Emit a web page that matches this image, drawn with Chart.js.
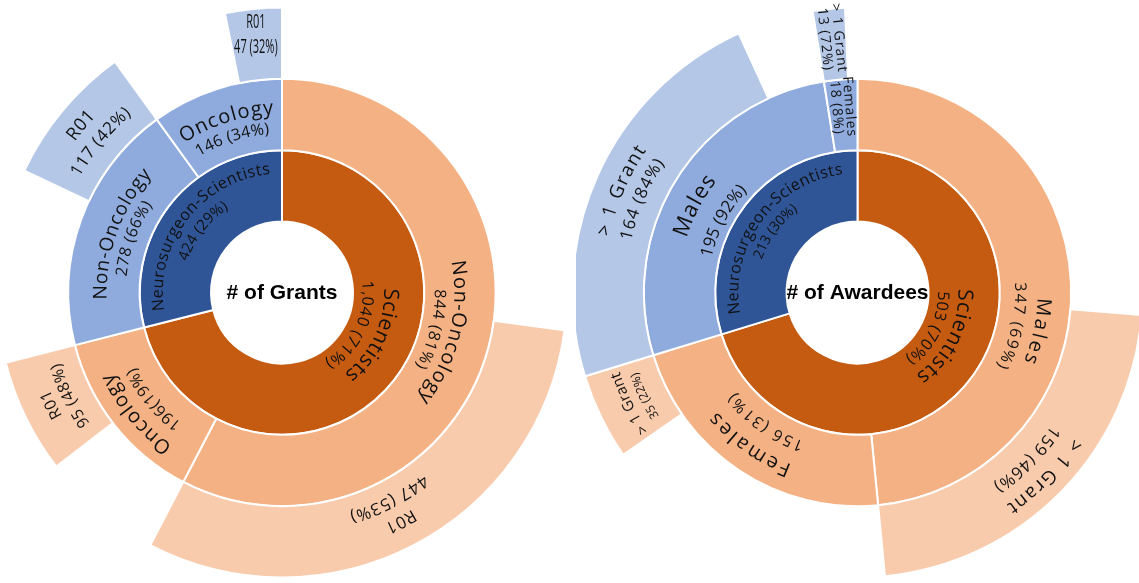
<!DOCTYPE html>
<html>
<head>
<meta charset="utf-8">
<script src="https://cdn.jsdelivr.net/npm/chart.js@4.4.1/dist/chart.umd.min.js"></script>
<style>
  html, body { margin: 0; padding: 0; background: #ffffff; }
  #wrap { position: relative; width: 1139px; height: 583px; overflow: hidden; }
  canvas { position: absolute; top: 0; }
</style>
</head>
<body>
<div id="wrap">
  <canvas id="grants" width="564" height="583" style="left:0px"></canvas>
  <canvas id="awardees" width="563" height="583" style="left:576px"></canvas>
</div>
<script>
// ---------------- DATA ----------------
// Chart 1: # of Grants
const grantTitle = "# of Grants";
const grantGroups = ["Scientists", "Neurosurgeon-Scientists"];
const grantGroupValues = [1040, 424];
const grantAreas = ["Non-Oncology", "Oncology", "Non-Oncology", "Oncology"];
const grantAreaValues = [844, 196, 278, 146];
const grantAreaParent = [0, 0, 1, 1];
const grantR01Names = ["R01", "R01", "R01", "R01"];
const grantR01Values = [447, 95, 117, 47];

// Chart 2: # of Awardees
const awardTitle = "# of Awardees";
const awardGroups = ["Scientists", "Neurosurgeon-Scientists"];
const awardGroupValues = [503, 213];
const awardSexes = ["Males", "Females", "Males", "Females"];
const awardSexValues = [347, 156, 195, 18];
const awardSexParent = [0, 0, 1, 1];
const awardMultiNames = ["> 1 Grant", "> 1 Grant", "> 1 Grant", "> 1 Grant"];
const awardMultiValues = [159, 35, 164, 13];

// ---------------- STYLE ----------------
const palette = [
  ["#C55A11", "#F4B183", "#F8CBAD"],   // Scientists (orange family)
  ["#2F5597", "#8FAADC", "#B4C7E7"]    // Neurosurgeon-Scientists (blue family)
];
const FONT = "'Open Sans', 'Noto Sans', sans-serif";
const WEIGHT = "normal";
const TEXT = "#111111";

const grantLeafAlign = ["end", "end", "end", "end"];
const awardLeafAlign = ["end", "end", "start", "start"];

const grantStyle = {
  inner: [
    {mode: "arc", pos: 0.45, r: [0.52, 0.20], size: [21, 16], ls: [1.2, 1.2]},
    {mode: "arc", pos: 0.50, r: [0.74, 0.46], size: [16, 15], ls: [0.8, 0.4]}
  ],
  middle: [
    {mode: "arc", pos: 0.50, r: [0.50, 0.21], size: [20, 16], ls: [1.5, 1.2]},
    {mode: "arc", pos: 0.47, r: [0.72, 0.38], size: [20, 16], ls: [1.5, 1], joiner: ""},
    {mode: "arc", pos: 0.50, r: [0.54, 0.26], size: [19, 16], ls: [1.2, 0.8]},
    {mode: "arc", pos: 0.50, r: [0.59, 0.30], size: [20, 16], ls: [1.5, 0.5]}
  ],
  outer: [
    {mode: "arc", pos: 0.50, r: [0.62, 0.30], size: [17, 17], ls: [1, 1]},
    {mode: "arc", pos: 0.50, r: [0.60, 0.33], size: [16, 16], ls: [0.8, 0.8]},
    {mode: "arc", pos: 0.50, r: [0.67, 0.34], size: [18, 17], ls: [0.8, 0.8]},
    {mode: "flat", pos: 0.50, r: 0.64, gap: 25, size: [20, 20], ls: [0, 0], scaleX: 0.55, rot: 0}
  ]
};

const awardStyle = {
  inner: [
    {mode: "arc", pos: 0.46, r: [0.505, 0.20], size: [21, 16], ls: [1.5, 1]},
    {mode: "arc", pos: 0.50, r: [0.74, 0.48], size: [16, 14], ls: [0.8, 0.1]}
  ],
  middle: [
    {mode: "arc", pos: 0.585, r: [0.61, 0.28], size: [20, 16], ls: [3, 2]},
    {mode: "arc", pos: 0.52, r: [0.67, 0.29], size: [20, 16], ls: [3, 2]},
    {mode: "arc", pos: 0.46, r: [0.61, 0.18], size: [22, 17], ls: [1.5, 0.3]},
    {mode: "radial", pos: 0.50, r: 0.61, gap: 13, size: [14, 14], ls: [1, 1]}
  ],
  outer: [
    {mode: "arc", pos: 0.50, r: [0.72, 0.37], size: [19, 17], ls: [1.8, 1]},
    {mode: "arc", pos: 0.50, r: [0.58, 0.33], size: [15, 12], ls: [0.3, 0.3]},
    {mode: "arc", pos: 0.49, r: [0.65, 0.33], size: [19, 17], ls: [1.8, 1.2]},
    {mode: "radial", pos: 0.50, r: 0.58, gap: 14, size: [14, 14], ls: [1, 1]}
  ]
};

// ---------------- HELPERS ----------------
const fmt = v => v.toLocaleString("en-US");
const pct = (v, t) => Math.round(v / t * 100);

function drawArcLine(ctx, text, cx, cy, r, mid, ls) {
  const chars = Array.from(text);
  const ws = chars.map(c => ctx.measureText(c).width);
  const total = ws.reduce((a, b) => a + b, 0) + ls * (chars.length - 1);
  let a = mid - total / 2 / r;
  chars.forEach((c, i) => {
    const ac = a + ws[i] / 2 / r;
    ctx.save();
    ctx.translate(cx + r * Math.cos(ac), cy + r * Math.sin(ac));
    ctx.rotate(ac + Math.PI / 2);
    ctx.fillText(c, 0, 0);
    ctx.restore();
    a += (ws[i] + ls) / r;
  });
}

function drawLabel(ctx, arc, lines, st) {
  const p = arc.getProps(["x", "y", "startAngle", "endAngle", "innerRadius", "outerRadius"], true);
  const a = p.startAngle + st.pos * (p.endAngle - p.startAngle);
  const rr = f => p.innerRadius + f * (p.outerRadius - p.innerRadius);
  ctx.save();
  ctx.fillStyle = TEXT;
  ctx.textAlign = "center";
  ctx.textBaseline = "middle";
  if (st.mode === "arc") {
    lines.forEach((t, i) => {
      ctx.font = WEIGHT + " " + st.size[i] + "px " + FONT;
      drawArcLine(ctx, t, p.x, p.y, rr(st.r[i]), a, st.ls[i]);
    });
  } else {
    const r = rr(st.r);
    ctx.translate(p.x + r * Math.cos(a), p.y + r * Math.sin(a));
    const rot = st.mode === "radial" ? a + Math.PI : (st.rot || 0) * Math.PI / 180;
    ctx.rotate(rot);
    if (st.scaleX) ctx.scale(st.scaleX, 1);
    const n = lines.length;
    lines.forEach((t, i) => {
      ctx.font = WEIGHT + " " + st.size[i] + "px " + FONT;
      if ("letterSpacing" in ctx) ctx.letterSpacing = (st.ls[i] || 0) + "px";
      ctx.fillText(t, 0, (i - (n - 1) / 2) * st.gap);
    });
  }
  ctx.restore();
}

function buildChart(canvasId, c) {
  const innerColors = c.groups.map((g, i) => palette[i][0]);
  const midColors = c.subParent.map(pi => palette[pi][1]);
  const outerData = [], outerColors = [], outerBW = [], leafIndex = [];
  c.subValues.forEach((v, i) => {
    const leaf = c.leafValues[i], gap = v - leaf, col = palette[c.subParent[i]][2];
    if (c.leafAlign[i] === "end") {
      outerData.push(gap, leaf); outerColors.push("rgba(0,0,0,0)", col); outerBW.push(0, 2);
      leafIndex.push(outerData.length - 1);
    } else {
      outerData.push(leaf, gap); outerColors.push(col, "rgba(0,0,0,0)"); outerBW.push(2, 0);
      leafIndex.push(outerData.length - 2);
    }
  });
  const groupTotal = c.groupValues.reduce((a, b) => a + b, 0);

  const labelPlugin = {
    id: "sunLabels",
    afterDatasetsDraw(chart) {
      const ctx = chart.ctx;
      const outer = chart.getDatasetMeta(0).data;
      const middle = chart.getDatasetMeta(1).data;
      const inner = chart.getDatasetMeta(2).data;
      c.groups.forEach((g, i) => {
        const st = c.style.inner[i];
        drawLabel(ctx, inner[i], [g, fmt(c.groupValues[i]) + (st.joiner ?? " ") + "(" + pct(c.groupValues[i], groupTotal) + "%)"], st);
      });
      c.subNames.forEach((n, i) => {
        const st = c.style.middle[i];
        const parentVal = c.groupValues[c.subParent[i]];
        drawLabel(ctx, middle[i], [n, fmt(c.subValues[i]) + (st.joiner ?? " ") + "(" + pct(c.subValues[i], parentVal) + "%)"], st);
      });
      c.leafNames.forEach((n, i) => {
        const st = c.style.outer[i];
        drawLabel(ctx, outer[leafIndex[i]], [n, fmt(c.leafValues[i]) + (st.joiner ?? " ") + "(" + pct(c.leafValues[i], c.subValues[i]) + "%)"], st);
      });
      // center title
      const p = inner[0].getProps(["x", "y"], true);
      ctx.save();
      ctx.fillStyle = "#000000";
      ctx.font = "bold 21px 'Liberation Sans', Arial, sans-serif";
      ctx.textAlign = "center";
      ctx.textBaseline = "middle";
      ctx.fillText(c.title, p.x, p.y + 1);
      ctx.restore();
    }
  };

  return new Chart(document.getElementById(canvasId), {
    type: "doughnut",
    data: {
      labels: outerData.map((v, i) => "s" + i),
      datasets: [
        {data: outerData, backgroundColor: outerColors, borderColor: "#ffffff", borderWidth: outerBW},
        {data: c.subValues, backgroundColor: midColors, borderColor: "#ffffff", borderWidth: 2},
        {data: c.groupValues, backgroundColor: innerColors, borderColor: "#ffffff", borderWidth: 2}
      ]
    },
    options: {
      responsive: false,
      animation: false,
      events: [],
      radius: 285,
      cutout: "24.9%",
      layout: {padding: {top: 2}},
      plugins: {legend: {display: false}, tooltip: {enabled: false}}
    },
    plugins: [labelPlugin]
  });
}

buildChart("grants", {
  title: grantTitle,
  groups: grantGroups, groupValues: grantGroupValues,
  subNames: grantAreas, subValues: grantAreaValues, subParent: grantAreaParent,
  leafNames: grantR01Names, leafValues: grantR01Values, leafAlign: grantLeafAlign,
  style: grantStyle
});
buildChart("awardees", {
  title: awardTitle,
  groups: awardGroups, groupValues: awardGroupValues,
  subNames: awardSexes, subValues: awardSexValues, subParent: awardSexParent,
  leafNames: awardMultiNames, leafValues: awardMultiValues, leafAlign: awardLeafAlign,
  style: awardStyle
});
</script>
</body>
</html>
